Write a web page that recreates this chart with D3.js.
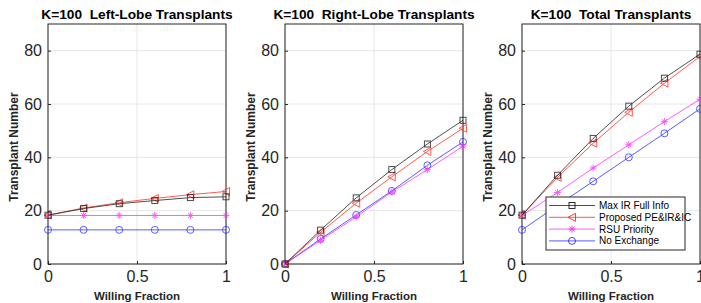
<!DOCTYPE html>
<html>
<head>
<meta charset="utf-8">
<script src="https://cdn.jsdelivr.net/npm/d3@7"></script>
<style>
body { margin:0; background:#fff; }
svg { font-family: "Liberation Sans", Helvetica, Arial, sans-serif; }
</style>
</head>
<body>
<div id="chart"></div>
<script>
var aFractions = [0, 0.2, 0.4, 0.6, 0.8, 1];
var aSeriesNames = ["Max IR Full Info", "Proposed PE&IR&IC", "RSU Priority", "No Exchange"];
var aTitles = ["K=100  Left-Lobe Transplants", "K=100  Right-Lobe Transplants", "K=100  Total Transplants"];

var aLeftMaxIR    = [18.3, 20.8, 22.6, 23.8, 24.9, 25.2];
var aLeftProposed = [18.3, 21.0, 23.0, 24.6, 26.0, 27.2];
var aLeftRSU      = [18.2, 18.2, 18.2, 18.2, 18.2, 18.2];
var aLeftNone     = [12.8, 12.8, 12.8, 12.8, 12.8, 12.8];

var aRightMaxIR    = [0, 12.7, 24.8, 35.4, 45.0, 53.9];
var aRightProposed = [0, 11.9, 22.8, 32.7, 42.2, 50.9];
var aRightRSU      = [0, 8.9, 17.7, 27.0, 35.4, 44.2];
var aRightNone     = [0, 9.4, 18.4, 27.4, 37.0, 45.8];

var aTotalMaxIR    = [18.3, 33.3, 47.1, 59.2, 69.7, 78.7];
var aTotalProposed = [18.3, 32.5, 45.3, 56.9, 67.8, 77.8];
var aTotalRSU      = [18.2, 26.8, 36.0, 44.7, 53.4, 61.8];
var aTotalNone     = [12.8, 22.0, 31.0, 40.0, 49.0, 58.2];

var aXTicks = [0, 0.5, 1];
var aYTicks = [0, 20, 40, 60, 80];

var aPanels = [
	[aLeftMaxIR, aLeftProposed, aLeftRSU, aLeftNone],
	[aRightMaxIR, aRightProposed, aRightRSU, aRightNone],
	[aTotalMaxIR, aTotalProposed, aTotalRSU, aTotalNone]
];

var aColors = ["#1a1a1a", "#ff2a1f", "#ff2aff", "#2a2aff"];
var aMarkers = ["square", "triangle", "star", "circle"];

var iWidth = 701, iHeight = 303;
var aLefts = [48, 285, 522];
var iPlotW = 178, iTop = 24, iBottom = 264;

var svg = d3.select("#chart").append("svg")
	.attr("width", iWidth)
	.attr("height", iHeight);

function DrawMarker(g, sType, x, y, sColor)
{
	if (sType == "square") {
		g.append("rect").attr("x", x-3).attr("y", y-3).attr("width", 6).attr("height", 6)
			.attr("fill", "none").attr("stroke", sColor).attr("stroke-width", 0.9);
	} else if (sType == "triangle") {
		g.append("path").attr("d", "M" + (x-4) + "," + y + "L" + (x+3.5) + "," + (y-4) + "L" + (x+3.5) + "," + (y+4) + "Z")
			.attr("fill", "none").attr("stroke", sColor).attr("stroke-width", 0.9);
	} else if (sType == "star") {
		var s = 3.5, d = 2.5;
		g.append("path").attr("d",
			"M" + (x-s) + "," + y + "L" + (x+s) + "," + y +
			"M" + x + "," + (y-s) + "L" + x + "," + (y+s) +
			"M" + (x-d) + "," + (y-d) + "L" + (x+d) + "," + (y+d) +
			"M" + (x-d) + "," + (y+d) + "L" + (x+d) + "," + (y-d))
			.attr("stroke", sColor).attr("stroke-width", 0.9);
	} else {
		g.append("circle").attr("cx", x).attr("cy", y).attr("r", 3.5)
			.attr("fill", "none").attr("stroke", sColor).attr("stroke-width", 0.9);
	}
}

aPanels.forEach(function(aSeries, iPanel) {
	var iLeft = aLefts[iPanel];
	var xScale = d3.scaleLinear().domain([0, 1]).range([iLeft, iLeft + iPlotW]);
	var yScale = d3.scaleLinear().domain([0, 90]).range([iBottom, iTop]);
	var g = svg.append("g");

	// grid
	g.selectAll(".gx").data(aXTicks).enter().append("line")
		.attr("x1", function(d) { return xScale(d); }).attr("x2", function(d) { return xScale(d); })
		.attr("y1", iTop).attr("y2", iBottom)
		.attr("stroke", "#e6e6e6").attr("stroke-width", 1);
	g.selectAll(".gy").data(aYTicks).enter().append("line")
		.attr("y1", function(d) { return yScale(d); }).attr("y2", function(d) { return yScale(d); })
		.attr("x1", iLeft).attr("x2", iLeft + iPlotW)
		.attr("stroke", "#e6e6e6").attr("stroke-width", 1);

	// axes
	var xAxis = g.append("g").attr("transform", "translate(0," + iBottom + ")")
		.call(d3.axisBottom(xScale).tickValues(aXTicks).tickSize(-3).tickPadding(7).tickFormat(d3.format("")));
	var yAxis = g.append("g").attr("transform", "translate(" + iLeft + ",0)")
		.call(d3.axisLeft(yScale).tickValues(aYTicks).tickSize(-3).tickPadding(6));
	[xAxis, yAxis].forEach(function(a) {
		a.select(".domain").remove();
		a.selectAll("line").attr("stroke", "#262626");
		a.selectAll("text").attr("fill", "#262626").style("font-size", "16px");
	});
	g.append("rect").attr("x", iLeft).attr("y", iTop).attr("width", iPlotW).attr("height", iBottom - iTop)
		.attr("fill", "none").attr("stroke", "#262626").attr("stroke-width", 1);

	// series
	var line = d3.line()
		.x(function(d, i) { return xScale(aFractions[i]); })
		.y(function(d) { return yScale(d); });
	var aOrder = [3, 2, 1, 0];
	aOrder.forEach(function(iS) {
		var aValues = aSeries[iS];
		var gs = g.append("g").attr("opacity", 0.85);
		gs.append("path").datum(aValues).attr("d", line)
			.attr("fill", "none").attr("stroke", aColors[iS]).attr("stroke-width", 0.9);
		aValues.forEach(function(v, i) {
			DrawMarker(gs, aMarkers[iS], xScale(aFractions[i]), yScale(v), aColors[iS]);
		});
	});

	// title and labels
	svg.append("text").attr("x", iLeft + iPlotW / 2).attr("y", 19)
		.attr("text-anchor", "middle").style("font-size", "13.7px").style("font-weight", "bold")
		.style("white-space", "pre")
		.attr("fill", "#000").text(aTitles[iPanel]);
	svg.append("text").attr("x", iLeft + iPlotW / 2).attr("y", 300)
		.attr("text-anchor", "middle").style("font-size", "11.5px").style("font-weight", "bold")
		.attr("fill", "#262626").text("Willing Fraction");
	svg.append("text")
		.attr("transform", "translate(" + (iLeft - 30) + "," + ((iTop + iBottom) / 2 + 3) + ") rotate(-90)")
		.attr("text-anchor", "middle").style("font-size", "12px").style("font-weight", "bold")
		.attr("fill", "#262626").text("Transplant Number");

	// legend in the last panel
	if (iPanel == 2) {
		var gl = g.append("g");
		gl.append("rect").attr("x", 546).attr("y", 197).attr("width", 139).attr("height", 53)
			.attr("fill", "#fff").attr("stroke", "#262626").attr("stroke-width", 1);
		aSeriesNames.forEach(function(sName, iS) {
			var iY = 205.5 + iS * 11.8;
			gl.append("line").attr("x1", 549).attr("x2", 595).attr("y1", iY).attr("y2", iY)
				.attr("stroke", aColors[iS]).attr("stroke-width", 0.9).attr("opacity", 0.85);
			DrawMarker(gl, aMarkers[iS], 572, iY, aColors[iS]);
			gl.append("text").attr("x", 599).attr("y", iY + 3.5)
				.style("font-size", "10px").attr("fill", "#000").text(sName);
		});
	}
});
</script>
</body>
</html>
